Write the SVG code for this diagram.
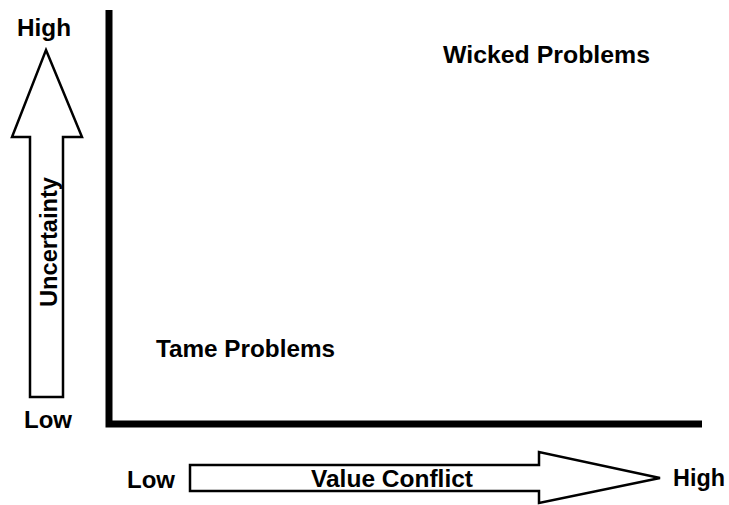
<svg xmlns="http://www.w3.org/2000/svg" width="729" height="505" viewBox="0 0 729 505">
<style>
.t{font-family:"Liberation Sans",Arial,sans-serif;font-weight:bold;fill:#000;font-size:24px}
.arr{fill:#fff;stroke:#000;stroke-width:2.5;stroke-linejoin:miter}
.axis{fill:none;stroke:#000;stroke-width:7;stroke-linejoin:miter}
</style>
<rect width="729" height="505" fill="#fff"/>
<g id="connectors">
<polyline class="axis" points="109,10 109,424 702,424"/>
</g>
<g id="uncertainty-arrow">
<polygon class="arr" points="46,50 82,137 63,137 63,397 30,397 30,137 12,137"/>
<text class="t" transform="translate(57,242) rotate(-90)" text-anchor="middle" textLength="130" lengthAdjust="spacingAndGlyphs">Uncertainty</text>
</g>
<g id="value-conflict-arrow">
<polygon class="arr" points="190,465 539,465 539,452 660,478 539,503 539,491 190,491"/>
<text class="t" x="311" y="487" textLength="162" lengthAdjust="spacingAndGlyphs">Value Conflict</text>
</g>
<g id="labels">
<text class="t" x="17" y="36" textLength="54" lengthAdjust="spacingAndGlyphs">High</text>
<text class="t" x="24" y="428" textLength="48" lengthAdjust="spacingAndGlyphs">Low</text>
<text class="t" x="127" y="488" textLength="48" lengthAdjust="spacingAndGlyphs">Low</text>
<text class="t" x="673" y="486" textLength="52" lengthAdjust="spacingAndGlyphs">High</text>
</g>
<g id="wicked-problems">
<text class="t" x="443" y="63" textLength="207" lengthAdjust="spacingAndGlyphs">Wicked Problems</text>
</g>
<g id="tame-problems">
<text class="t" x="156" y="357" textLength="179" lengthAdjust="spacingAndGlyphs">Tame Problems</text>
</g>
</svg>
